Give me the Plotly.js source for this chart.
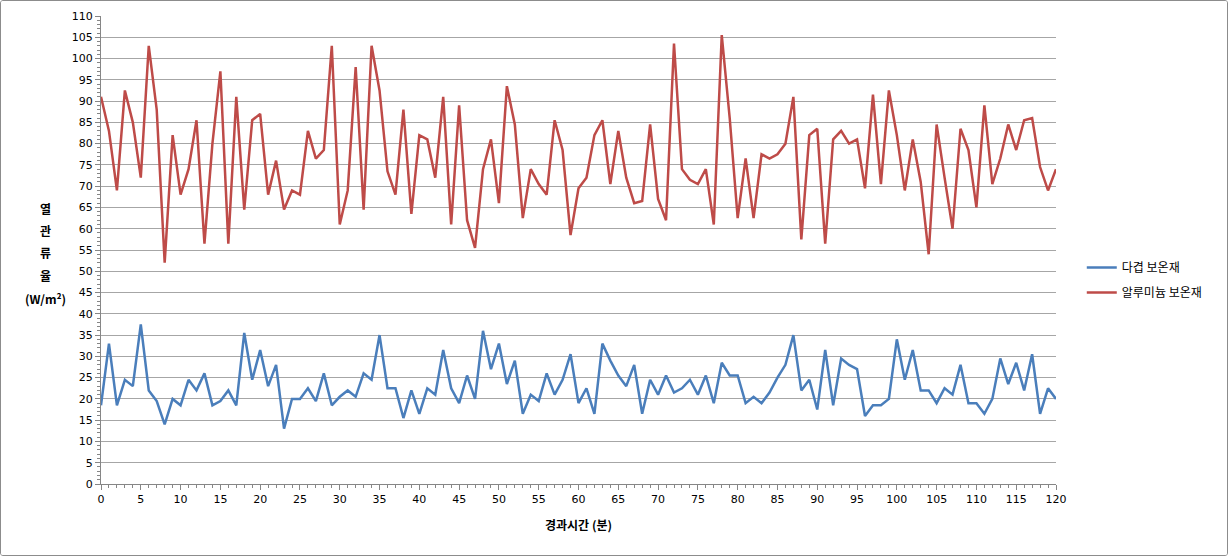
<!DOCTYPE html>
<html><head><meta charset="utf-8">
<script src="https://cdn.plot.ly/plotly-3.0.1.min.js"></script>
<style>
html,body{margin:0;padding:0;background:#fff;}
#wrap{width:1228px;height:556px;box-sizing:border-box;border:1px solid #8c8c8c;border-radius:3px;overflow:hidden;}
#chart{width:1226px;height:554px;}
</style></head><body>
<div id="wrap"><div id="chart"></div></div>
<script>
const minutes = Array.from({length:121},(_,i)=>i);
const seriesNames = ['다겹 보온재','알루미늄 보온재'];
const multiLayer = [18.5,33,18.5,24.5,23,37.5,22,19.5,14,20,18.5,24.5,22,26,18.5,19.5,22,18.5,35.5,24.5,
31.5,23,28,13,20,20,22.5,19.5,26,18.5,20.5,22,20.5,26,24.5,35,22.5,22.5,15.5,22,
16.5,22.5,21,31.5,22.5,19,25.5,20,36,27,33,23.5,29,16.5,21,19.5,26,21,24.5,30.5,
19,22.5,16.5,33,29,25.5,23,28,16.5,24.5,21,25.5,21.5,22.5,24.5,21,25.5,19,28.5,25.5,
25.5,19,20.5,19,21.5,25,28,35,22,24.5,17.5,31.5,18.5,29.5,28,27,16,18.5,18.5,20,
34,24.5,31.5,22,22,19,22.5,21,28,19,19,16.5,20,29.5,23.5,28.5,22,30.5,16.5,22.5,20];
const aluminum = [91,83,69,92.5,85,72,103,88,52,82,68,74,85.5,56.5,80,97,56.5,91,64.5,85.5,
87,68,76,64.5,69,68,83,76.5,78.5,103,61,69,98,64.5,103,92.5,73.5,68,88,63.5,
82,81,72,91,61,89,62,55.5,74,81,66,93.5,84.5,62.5,74,70.5,68,85.5,78.5,58.5,
69.5,72,82,85.5,70.5,83,72,66,66.5,84.5,67,62,103.5,74,71.5,70.5,74,61,105.5,86,
62.5,76.5,62.5,77.5,76.5,77.5,80,91,57.5,82,83.5,56.5,81,83,80,81,69.5,91.5,70.5,92.5,
82,69,81,71,54,84.5,72,60,83.5,78.5,65,89,70.5,76.5,84.5,78.5,85.5,86,74.5,69,74];
const yTitleLines = ['열','관','류','율','(W/m²)'];
const xTitle = '경과시간 (분)';

const cjk = '"Noto Sans CJK KR", "Noto Sans", sans-serif';
const traces = [
  {x:minutes, y:multiLayer, name:seriesNames[0], type:'scatter', mode:'lines', legendgroup:'a',
   line:{color:'#4A7EBB', width:2.5}},
  {x:minutes, y:aluminum, name:seriesNames[1], type:'scatter', mode:'lines', legendgroup:'b',
   line:{color:'#BE4B48', width:2.5}}
];
const annY = [208,230,252,275,298];
const annotations = yTitleLines.map((t,i)=>({
  text:t, xref:'paper', yref:'paper', x:(45-101)/955, y:(484-annY[i])/468,
  xanchor:'center', yanchor:'middle', showarrow:false,
  font:{family:cjk, size:12, color:'#000', weight:'bold'}
}));
const layout = {
  width:1226, height:554,
  margin:{l:100, r:171, t:15, b:71},
  paper_bgcolor:'#fff', plot_bgcolor:'#fff',
  showlegend:true,
  legend:{x:1.027, y:(484-253)/468, xanchor:'left', yanchor:'top',
    font:{family:cjk, size:12, color:'#000'}, itemwidth:30, tracegroupgap:6},
  xaxis:{range:[0,120], dtick:5, tick0:0, showgrid:false, zeroline:false,
    showline:true, linecolor:'#868686', linewidth:1,
    ticks:'outside', ticklen:5, tickcolor:'#868686',
    minor:{dtick:1, ticks:'outside', ticklen:3, tickcolor:'#868686', showgrid:false},
    tickfont:{family:'"DejaVu Sans", sans-serif', size:11, color:'#000'},
    title:{text:xTitle, font:{family:cjk, size:12, color:'#000', weight:'bold'}, standoff:16}},
  yaxis:{range:[0,110], dtick:5, tick0:0, showgrid:true, gridcolor:'#a6a6a6', gridwidth:1,
    zeroline:false, showline:true, linecolor:'#868686', linewidth:1,
    ticks:'outside', ticklen:5, tickcolor:'#868686',
    minor:{dtick:1, ticks:'outside', ticklen:3, tickcolor:'#868686', showgrid:false},
    tickfont:{family:'"DejaVu Sans", sans-serif', size:11, color:'#000'}},
  annotations:annotations
};
Plotly.newPlot('chart', traces, layout, {displayModeBar:false, staticPlot:true});
</script></body></html>
